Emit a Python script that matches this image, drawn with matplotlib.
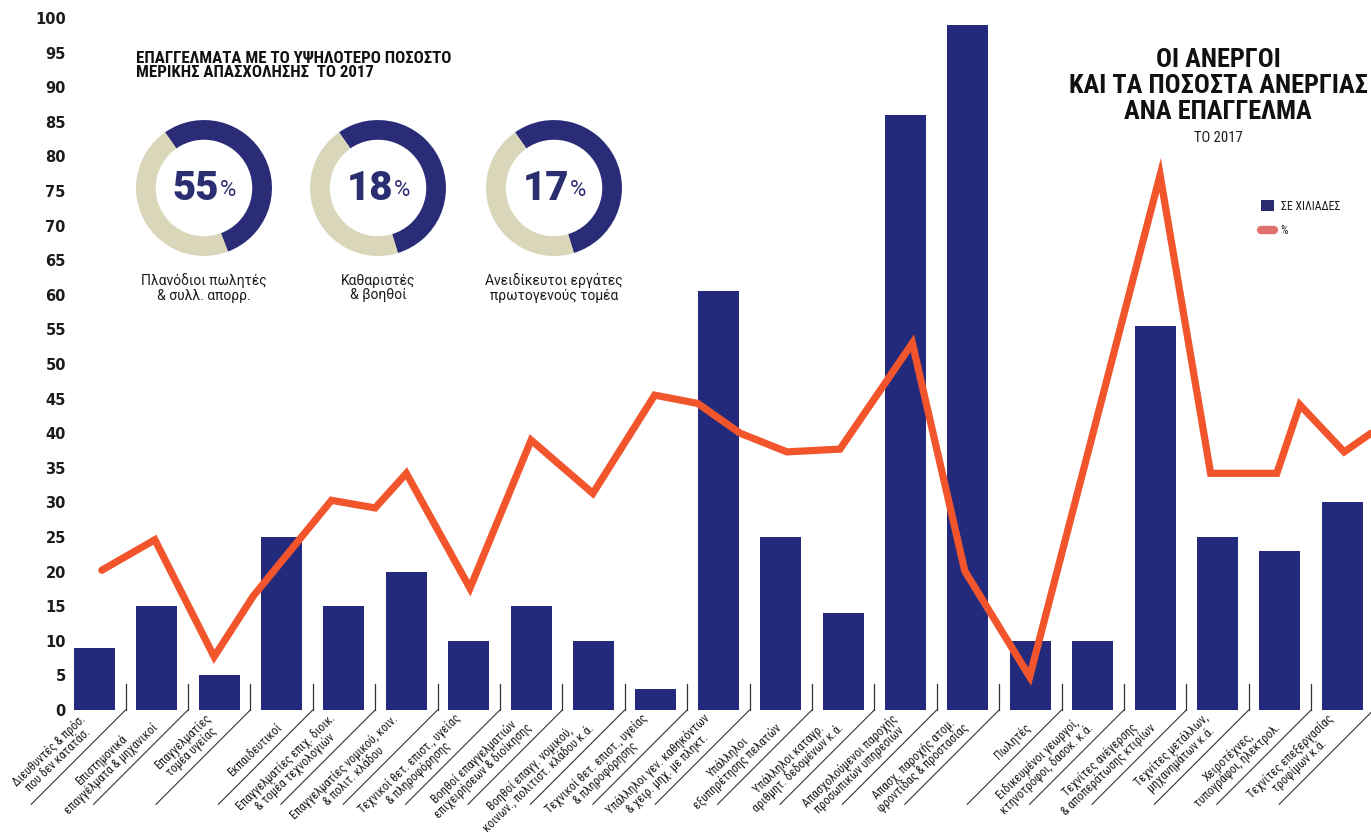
import matplotlib
matplotlib.use('Agg')
import matplotlib.pyplot as plt
from matplotlib import font_manager as fm
from matplotlib.patches import Patch
from matplotlib.lines import Line2D

# ---------------- data ----------------
categories = [
    "Διευθυντές & πρόσ.\nπου δεν κατατάσ.",
    "Επιστημονικά\nεπαγγέλματα & μηχανικοί",
    "Επαγγελματίες\nτομέα υγείας",
    "Εκπαιδευτικοί",
    "Επαγγελματίες επιχ. διοικ.\n& τομέα τεχνολογιών",
    "Επαγγελματίες νομικού, κοιν.\n& πολιτ. κλάδου",
    "Τεχνικοί θετ. επιστ., υγείας\n& πληροφόρησης",
    "Βοηθοί επαγγελματιών\nεπιχειρήσεων & διοίκησης",
    "Βοηθοί επαγγ. νομικού,\nκοινων., πολιτιστ. κλάδου κ.ά.",
    "Τεχνικοί θετ. επιστ., υγείας\n& πληροφόρησης",
    "Υπάλληλοι γεν. καθηκόντων\n& χειρ. μηχ. με πληκτ.",
    "Υπάλληλοι\nεξυπηρέτησης πελατών",
    "Υπάλληλοι καταγρ.\nαριθμητ. δεδομένων κ.ά.",
    "Απασχολούμενοι παροχής\nπροσωπικών υπηρεσιών",
    "Απασχ. παροχής ατομ.\nφροντίδας & προστασίας",
    "Πωλητές",
    "Ειδικευμένοι γεωργοί,\nκτηνοτρόφοι, δασοκ. κ.ά.",
    "Τεχνίτες ανέγερσης\n& αποπεράτωσης κτιρίων",
    "Τεχνίτες μετάλλων,\nμηχανημάτων κ.ά.",
    "Χειροτέχνες,\nτυπογράφοι, ηλεκτρολ.",
    "Τεχνίτες επεξεργασίας\nτροφίμων κ.ά.",
]
unemployed_thousands = [9, 15, 5, 25, 15, 20, 10, 15, 10, 3, 60.5, 25, 14, 86,
                        99, 10, 10, 55.5, 25, 23, 30]

# % line (drawn freely across the categories in the original)
pct_x = [0.12, 0.97, 1.92, 2.55, 3.80, 4.50, 5.00, 6.02, 7.00, 7.99, 8.98,
         9.67, 10.35, 11.10, 11.95, 13.11, 13.95, 14.99, 17.08, 17.89,
         18.95, 19.32, 20.03, 20.46]
pct_y = [20.2, 24.6, 7.7, 16.5, 30.3, 29.2, 34.2, 17.6, 39.0, 31.3, 45.5,
         44.3, 40.0, 37.3, 37.7, 53.0, 20.1, 4.8, 77.3, 34.2,
         34.2, 44.1, 37.3, 40.0]

yticks = list(range(0, 101, 5))

donut_numbers = ["55", "18", "17"]
donut_dark_share = [54, 55, 55]
donut_labels = ["Πλανόδιοι πωλητές\n& συλλ. απορρ.",
                "Καθαριστές\n& βοηθοί",
                "Ανειδίκευτοι εργάτες\nπρωτογενούς τομέα"]

title = "ΟΙ ΑΝΕΡΓΟΙ\nΚΑΙ ΤΑ ΠΟΣΟΣΤΑ ΑΝΕΡΓΙΑΣ\nΑΝΑ ΕΠΑΓΓΕΛΜΑ"
title_year = "ΤΟ 2017"
inset_title = "ΕΠΑΓΓΕΛΜΑΤΑ ΜΕ ΤΟ ΥΨΗΛΟΤΕΡΟ ΠΟΣΟΣΤΟ\nΜΕΡΙΚΗΣ ΑΠΑΣΧΟΛΗΣΗΣ  ΤΟ 2017"
legend_labels = ["ΣΕ ΧΙΛΙΑΔΕΣ", "%"]

# ---------------- fonts ----------------
available = {f.name for f in fm.fontManager.ttflist}
def pick(*names):
    for n in names:
        if n in available:
            return n
    return 'DejaVu Sans'

NARROW = pick('Roboto Condensed', 'Liberation Sans Narrow', 'Open Sans Condensed', 'Roboto')
REG = pick('Roboto', 'Open Sans', 'DejaVu Sans')

BAR = '#232a7c'
LINE = '#f2552c'
NAVY_TXT = '#2b2f72'
TXT = '#1c1c1c'

W, H = 1371, 836
fig = plt.figure(figsize=(W / 100, H / 100), dpi=100)
fig.patch.set_facecolor('white')

ax = fig.add_axes([70 / W, 1 - 710 / H, (W - 70) / W, (710 - 18) / H])
x = list(range(len(categories)))
ax.bar(x, unemployed_thousands, width=0.655, color=BAR, zorder=2)
ax.plot(pct_x, pct_y, color=LINE, lw=5.2, solid_capstyle='round',
        solid_joinstyle='miter', zorder=3)

ax.set_xlim(-0.39, 20.46)
ax.set_ylim(0, 100)
ax.set_yticks(yticks)
ax.set_yticklabels([str(v) for v in yticks], fontweight='bold', fontsize=10.5,
                   color=TXT)
ax.tick_params(axis='y', length=0, pad=3)
ax.set_xticks([])
for s in ax.spines.values():
    s.set_visible(False)

# separators and rotated category labels
for i, lab in enumerate(categories):
    xs = i + 0.5
    ax.plot([xs, xs], [0, 3.8], color='#333333', lw=0.9, clip_on=False, zorder=1)
    ax.annotate('', xy=(xs, 0), xytext=(-68, -68), textcoords='offset points',
                arrowprops=dict(arrowstyle='-', color='#333333', lw=0.8,
                                shrinkA=0, shrinkB=0),
                annotation_clip=False)
    ax.annotate(lab, xy=(xs, 0), xytext=(-20, -15), textcoords='offset points',
                rotation=44, rotation_mode='anchor', ha='right', va='bottom',
                multialignment='center', fontsize=8.7, family=NARROW,
                color=TXT, annotation_clip=False, linespacing=1.0)

# legend
handles = [Patch(facecolor='#2b2c6e', edgecolor='none', label=legend_labels[0]),
           Line2D([0], [0], color='#e0706e', lw=6, solid_capstyle='round',
                  label=legend_labels[1])]
ax.legend(handles=handles, loc='upper left',
          bbox_to_anchor=(1250 / W, 1 - 189 / H), bbox_transform=fig.transFigure,
          frameon=False, prop={'family': NARROW, 'size': 8.5},
          handlelength=1.1, handleheight=1.1, labelspacing=1.0,
          handletextpad=0.6, labelcolor=TXT)

# titles
fig.text(1218 / W, 1 - 48 / H, title, ha='center', va='top', fontsize=19,
         fontweight='bold', family=NARROW, color='#111111', linespacing=1.1)
fig.text(1218 / W, 1 - 138 / H, title_year, ha='center', va='center',
         fontsize=10.5, family=NARROW, color=TXT)
fig.text(136 / W, 1 - 51 / H, inset_title, ha='left', va='top', fontsize=12.2,
         fontweight='bold', family=NARROW, color='#111111', linespacing=0.92)

# donuts
centers = [(204, 188), (378, 188), (554, 188)]
R = 70
for (cx, cy), num, share, lab in zip(centers, donut_numbers, donut_dark_share,
                                     donut_labels):
    dax = fig.add_axes([(cx - R) / W, 1 - (cy + R) / H, 2 * R / W, 2 * R / H])
    dax.pie([share, 100 - share], colors=['#2a2c78', '#dad6b9'],
            startangle=125, counterclock=False,
            wedgeprops=dict(width=0.29, edgecolor='none'))
    dax.set_xlim(-1.03, 1.03)
    dax.set_ylim(-1.03, 1.03)
    dax.set_aspect('equal')
    dax.axis('off')
    fig.text((cx + 15) / W, 1 - (cy + 1) / H, num, ha='right', va='center',
             fontsize=29, fontweight='black', color=NAVY_TXT, family=REG)
    fig.text((cx + 16) / W, 1 - (cy + 3) / H, '%', ha='left', va='center',
             fontsize=16, color=NAVY_TXT, family=REG)
    fig.text(cx / W, 1 - 288 / H, lab, ha='center', va='center', fontsize=10,
             family=REG, color=TXT, linespacing=1.05)

fig.savefig('out.png', dpi=100, facecolor='white')
